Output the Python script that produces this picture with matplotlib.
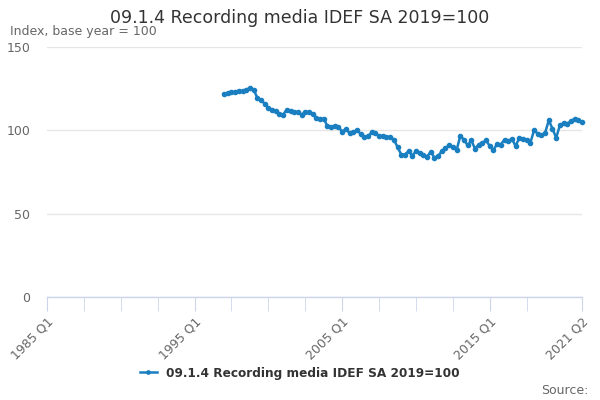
import matplotlib
matplotlib.use("Agg")
import matplotlib.pyplot as plt

# Quarterly categories 1985 Q1 .. 2021 Q2
quarters = [f"{y} Q{q}" for y in range(1985, 2022) for q in range(1, 5)][:146]

# Series starts at 1997 Q1
start_label = "1997 Q1"
values = [
    122.0, 122.3, 122.8, 123.2,   # 1997
    123.8, 123.5, 124.3, 125.6,   # 1998
    124.5, 119.5, 118.0, 116.0,   # 1999
    113.5, 112.5, 111.5, 110.0,   # 2000
    109.5, 112.5, 111.5, 111.0,   # 2001
    111.0, 109.5, 111.0, 111.0,   # 2002
    110.0, 107.5, 106.8, 107.0,   # 2003
    102.5, 101.8, 102.8, 102.0,   # 2004
    99.3, 100.8, 98.3, 99.0,      # 2005
    100.0, 98.0, 96.0, 96.5,      # 2006
    98.8, 98.5, 96.5, 96.5,       # 2007
    96.0, 96.0, 94.5, 90.0,       # 2008
    85.5, 85.5, 87.5, 84.8,       # 2009
    87.5, 86.5, 85.5, 84.3,       # 2010
    87.0, 83.7, 84.5, 87.5,       # 2011
    89.5, 91.0, 90.0, 88.0,       # 2012
    96.5, 94.5, 91.0, 94.0,       # 2013
    89.0, 91.5, 92.5, 94.0,       # 2014
    90.5, 88.0, 92.0, 91.5,       # 2015
    94.5, 93.5, 95.0, 90.5,       # 2016
    95.5, 94.8, 94.5, 92.5,       # 2017
    100.0, 98.0, 97.0, 98.5,      # 2018
    106.0, 101.0, 95.5, 103.0,    # 2019
    104.5, 104.0, 105.5, 107.0,   # 2020
    106.5, 105.0,                 # 2021
]

series_name = "09.1.4 Recording media IDEF SA 2019=100"
title = "09.1.4 Recording media IDEF SA 2019=100"
y_title = "Index, base year = 100"
y_ticks = [0, 50, 100, 150]
x_labels = ["1985 Q1", "1995 Q1", "2005 Q1", "2015 Q1", "2021 Q2"]

first = quarters.index(start_label)
xs = list(range(first, first + len(values)))

fig = plt.figure(figsize=(6, 4), dpi=100)
ax = fig.add_axes([47 / 600, 1 - 297 / 400, 535 / 600, 250 / 400])

line_color = "#1a7fc1"
ax.plot(xs, values, color=line_color, lw=1.8, marker="o", ms=3,
        clip_on=False, zorder=3)

ax.set_xlim(0, len(quarters) - 1)
ax.set_ylim(0, 150)
ax.set_yticks(y_ticks)
ax.grid(axis="y", color="#e6e6e6", lw=1)
ax.set_axisbelow(True)

for s in ["top", "right", "left"]:
    ax.spines[s].set_visible(False)
ax.spines["bottom"].set_color("#ccd6eb")
ax.spines["bottom"].set_linewidth(1)

# minor ticks every 10 quarters, plus the last category
minor = list(range(0, 131, 10)) + [len(quarters) - 1]
ax.set_xticks(minor, minor=True)
ax.set_xticks([quarters.index(l) for l in x_labels])
ax.set_xticklabels(x_labels, rotation=45, ha="right", va="top",
                   rotation_mode="anchor")
ax.tick_params(axis="x", which="both", length=10, color="#ccd6eb",
               labelsize=9, labelcolor="#666666", pad=3)
ax.tick_params(axis="y", length=0, labelsize=9, labelcolor="#666666", pad=12)

fig.text(0.5, 1 - 18 / 400, title, ha="center", va="center",
         fontsize=12.5, color="#333333")
fig.text(10 / 600, 1 - 32 / 400, y_title, ha="left", va="center",
         fontsize=9, color="#666666")

leg = fig.legend([ax.lines[0]], [series_name], loc="center",
                 bbox_to_anchor=(0.5, 1 - 373 / 400), frameon=False,
                 handlelength=1.4, markerscale=0.8,
                 prop={"weight": "bold", "size": 8.7})
for t in leg.get_texts():
    t.set_color("#333333")

fig.text(588 / 600, 1 - 390 / 400, "Source:", ha="right", va="center",
         fontsize=9, color="#666666")

fig.savefig("out.png", dpi=100)
